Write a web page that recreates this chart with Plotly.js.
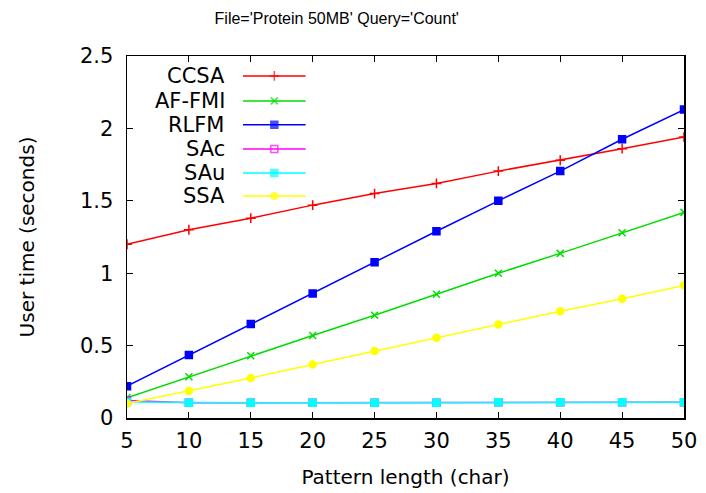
<!DOCTYPE html>
<html>
<head>
<meta charset="utf-8">
<script src="https://cdn.plot.ly/plotly-3.0.1.min.js"></script>
<style>html,body{margin:0;padding:0;background:#fff;}#chart{width:706px;height:493px;}</style>
</head>
<body>
<div id="chart"></div>
<script>
// ---- data ----
const patternLength = [5, 10, 15, 20, 25, 30, 35, 40, 45, 50];
const seriesNames = ["CCSA", "AF-FMI", "RLFM", "SAc", "SAu", "SSA"];
const ccsa  = [1.20, 1.30, 1.38, 1.47, 1.55, 1.62, 1.705, 1.78, 1.86, 1.94];
const affmi = [0.14, 0.285, 0.43, 0.57, 0.71, 0.855, 1.00, 1.137, 1.28, 1.42];
const rlfm  = [0.22, 0.435, 0.65, 0.86, 1.075, 1.29, 1.50, 1.705, 1.925, 2.13];
const sac   = [0.12, 0.105, 0.105, 0.105, 0.105, 0.105, 0.108, 0.108, 0.108, 0.108];
const sau   = [0.11, 0.105, 0.105, 0.105, 0.105, 0.105, 0.108, 0.108, 0.108, 0.108];
const ssa   = [0.10, 0.186, 0.276, 0.37, 0.463, 0.555, 0.645, 0.737, 0.824, 0.916];
const xTicks = [5, 10, 15, 20, 25, 30, 35, 40, 45, 50];
const yTicks = [0, 0.5, 1, 1.5, 2, 2.5];
const yTickText = ["0", "0.5", "1", "1.5", "2", "2.5"];

const values = [ccsa, affmi, rlfm, sac, sau, ssa];
const colors = ["#ff0000", "#00dd00", "#0000ff", "#ff00ff", "#00ffff", "#ffff00"];
const symbols = ["cross-thin-open", "x-thin-open", "square", "square-open", "square", "circle"];
const sizes = [7, 7, 7, 7, 7, 7];

const FONT = "DejaVu Sans, Verdana, sans-serif";
const TFONT = "Liberation Sans, Arial, sans-serif";
const traces = [];
values.forEach((v, i) => {
  traces.push({
    x: patternLength, y: v, type: "scatter", mode: "lines+markers",
    name: seriesNames[i], showlegend: false,
    line: {color: colors[i], width: 1.5},
    marker: {color: colors[i], symbol: symbols[i], size: sizes[i], line: {color: colors[i], width: 1.5}}
  });
});

// legend samples drawn on an overlay axis
const legendRows = [0.945, 0.876, 0.810, 0.743, 0.677, 0.613];
const annotations = [];
seriesNames.forEach((n, i) => {
  traces.push({
    x: [0, 0.5, 1], y: [legendRows[i], legendRows[i], legendRows[i]],
    xaxis: "x2", yaxis: "y2", type: "scatter", mode: "lines+markers",
    showlegend: false, hoverinfo: "skip",
    line: {color: colors[i], width: 1.5},
    marker: {color: colors[i], symbol: symbols[i], size: [0, sizes[i], 0], line: {color: colors[i], width: 1.5}}
  });
  annotations.push({
    xref: "paper", yref: "paper", x: 0.18, y: legendRows[i], xanchor: "right", yanchor: "middle",
    text: n, showarrow: false, font: {family: FONT, size: 21, color: "#000"}
  });
});

const layout = {
  width: 706, height: 493,
  margin: {l: 127, r: 22, t: 56, b: 75},
  paper_bgcolor: "#fff", plot_bgcolor: "rgba(0,0,0,0)",
  showlegend: false,
  title: {text: "File='Protein 50MB' Query='Count'", x: 0.477, xref: "container", xanchor: "center",
          y: 0.963, yanchor: "middle",
          font: {family: TFONT, size: 16, color: "#000"}},
  xaxis: {
    range: [5, 50], tickvals: xTicks, ticks: "inside", ticklen: 6, tickcolor: "#000",
    showline: true, linecolor: "#000", linewidth: 1.5, mirror: "ticks", showgrid: false, zeroline: false,
    tickfont: {family: FONT, size: 21, color: "#000"}, ticklabelstandoff: 3,
    title: {text: "Pattern length (char)", font: {family: FONT, size: 20, color: "#000"}, standoff: 18}
  },
  yaxis: {
    range: [0, 2.5], tickvals: yTicks, ticktext: yTickText, ticks: "inside", ticklen: 6, tickcolor: "#000",
    showline: true, linecolor: "#000", linewidth: 1.5, mirror: "ticks", showgrid: false, zeroline: false,
    tickfont: {family: FONT, size: 21, color: "#000"}, ticklabelstandoff: 8,
    title: {text: "User time (seconds)", font: {family: FONT, size: 20, color: "#000"}, standoff: 40}
  },
  xaxis2: {domain: [0.208, 0.321], range: [0, 1], visible: false, anchor: "y2", fixedrange: true},
  yaxis2: {domain: [0, 1], range: [0, 1], visible: false, anchor: "x2", overlaying: "y", fixedrange: true},
  annotations: annotations
};

Plotly.newPlot("chart", traces, layout, {displayModeBar: false, staticPlot: true});
</script>
</body>
</html>
